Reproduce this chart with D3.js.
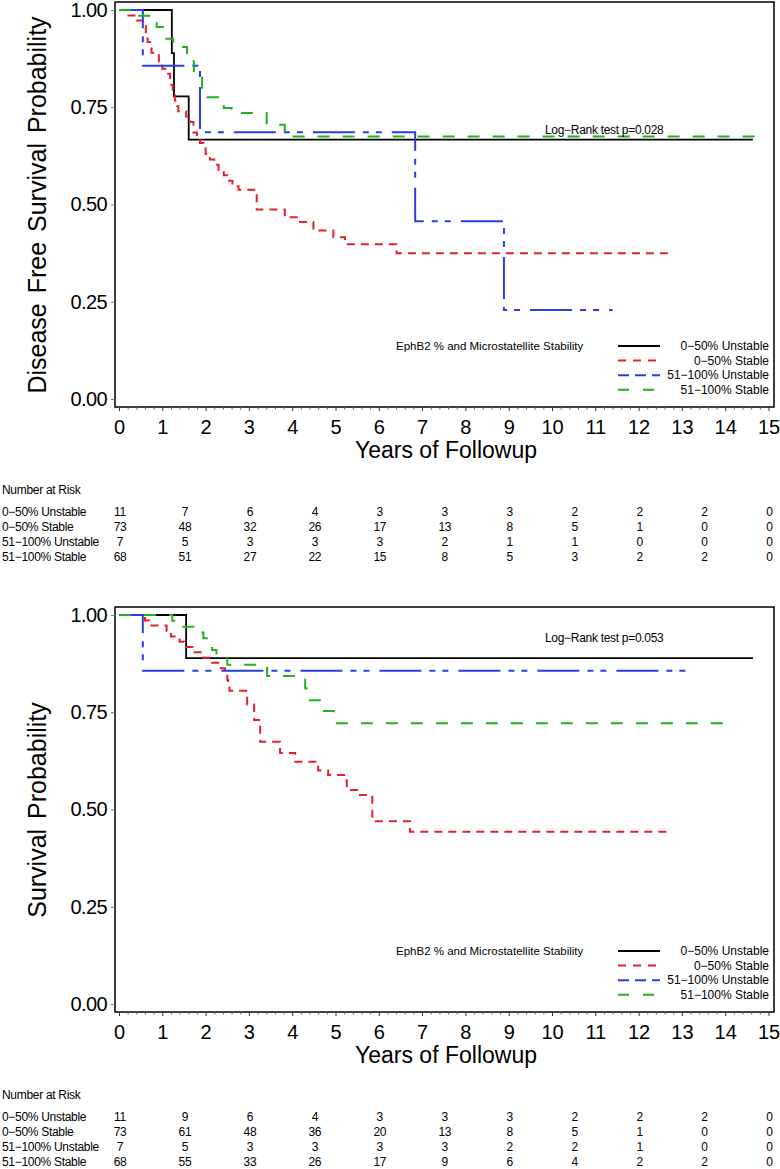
<!DOCTYPE html>
<html>
<head>
<meta charset="utf-8">
<script src="https://cdn.jsdelivr.net/npm/d3@7"></script>
<style>
  body { margin: 0; background: #fff; }
  svg  { display: block; font-family: "Liberation Sans", Arial, sans-serif; }
</style>
</head>
<body>
<svg id="chart" width="780" height="1169"></svg>
<script>
'use strict';

const groups       = ['0−50% Unstable', '0−50% Stable', '51−100% Unstable', '51−100% Stable']
const colors       = ['#000000', '#e3202b', '#2b3fe0', '#1fb31f']
const dashes       = [null, '8,6', '42,8,6,7,6,10', '12,13']
const legendDashes = [null, '8,7', '11,6', '11,14']

const xTicks    = d3.range(0, 16)
const yTicks    = [0, 0.25, 0.5, 0.75, 1]
const riskTimes = [0, 1.5, 3, 4.5, 6, 7.5, 9, 10.5, 12, 13.5, 15]

// disease free survival, [years, probability]
const dfsLowUnstable  = [[0,1],[1.22,0.889],[1.27,0.778],[1.61,0.667],[14.64,0.667]]
const dfsLowStable    = [[0,1],[0.22,0.986],[0.41,0.973],[0.55,0.959],[0.62,0.932],[0.66,0.918],[0.75,0.89],
                         [0.92,0.863],[1.0,0.849],[1.1,0.836],[1.18,0.808],[1.24,0.795],[1.29,0.767],[1.34,0.753],
                         [1.37,0.74],[1.55,0.726],[1.65,0.712],[1.72,0.685],[1.8,0.671],[1.87,0.658],[1.95,0.644],
                         [2.0,0.63],[2.1,0.616],[2.2,0.602],[2.3,0.589],[2.42,0.575],[2.5,0.561],[2.62,0.547],
                         [2.76,0.538],[3.18,0.487],[3.83,0.467],[4.18,0.455],[4.49,0.433],[4.95,0.416],[5.22,0.398],
                         [6.41,0.375],[12.68,0.375]]
const dfsHighUnstable = [[0,1],[0.55,0.857],[1.87,0.686],[6.84,0.457],[8.89,0.229],[11.4,0.229]]
const dfsHighStable   = [[0,1],[0.33,0.985],[0.87,0.956],[1.06,0.926],[1.25,0.905],[1.57,0.868],[1.73,0.838],
                         [1.92,0.8],[2.05,0.776],[2.42,0.748],[2.6,0.735],[3.41,0.705],[3.83,0.675],[14.9,0.675]]

// overall survival
const osLowUnstable   = [[0,1],[1.55,0.889],[14.64,0.889]]
const osLowStable     = [[0,1],[0.6,0.986],[0.7,0.973],[1.1,0.959],[1.2,0.945],[1.4,0.931],[1.5,0.918],[1.7,0.904],
                         [1.95,0.89],[2.15,0.877],[2.35,0.863],[2.45,0.848],[2.5,0.833],[2.52,0.819],[2.55,0.805],
                         [2.96,0.77],[3.12,0.73],[3.26,0.674],[3.72,0.645],[4.07,0.623],[4.6,0.6],[4.83,0.589],
                         [5.26,0.55],[5.5,0.537],[5.85,0.47],[6.72,0.443],[12.68,0.443]]
const osHighUnstable  = [[0,1],[0.55,0.857],[13.1,0.857]]
const osHighStable    = [[0,1],[1.23,0.985],[1.4,0.97],[1.75,0.955],[1.95,0.94],[2.1,0.925],[2.15,0.91],[2.25,0.895],
                         [2.5,0.872],[3.42,0.843],[4.3,0.812],[4.33,0.781],[4.73,0.753],[4.96,0.722],[14.2,0.722]]

const dfsRisk = [[11,7,6,4,3,3,3,2,2,2,0],
                 [73,48,32,26,17,13,8,5,1,0,0],
                 [7,5,3,3,3,2,1,1,0,0,0],
                 [68,51,27,22,15,8,5,3,2,2,0]]
const osRisk  = [[11,9,6,4,3,3,3,2,2,2,0],
                 [73,61,48,36,20,13,8,5,1,0,0],
                 [7,5,3,3,3,3,2,2,1,0,0],
                 [68,55,33,26,17,9,6,4,2,2,0]]

const svg = d3.select('#chart')
const x   = d3.scaleLinear().domain([0, 15]).range([119, 768.5])

function drawPanel(oy, yTitle, curves, pText, pY, risk) {
  const g = svg.append('g').attr('transform', `translate(0,${oy})`)
  const y = d3.scaleLinear().domain([0, 1]).range([399, 10])

  // frame
  g.append('rect')
    .attr('x', 115).attr('y', 2).attr('width', 659).attr('height', 405)
    .attr('fill', 'none').attr('stroke', '#000').attr('stroke-width', 1.5)

  // y axis
  const ya = g.append('g').attr('transform', 'translate(115,0)')
    .call(d3.axisLeft(y).tickValues(yTicks).tickFormat(d3.format('.2f')).tickSize(4).tickPadding(4))
  ya.select('.domain').remove()
  ya.selectAll('line').attr('stroke', '#777')
  ya.selectAll('text').attr('font-size', 20).attr('fill', '#000')
    .attr('font-family', '"Liberation Sans", Arial, sans-serif').attr('letter-spacing', -0.6)

  // x axis, minor ticks then majors
  const minor = d3.range(0, 15.01, 0.2).filter((t) => Math.abs(t - Math.round(t)) > 0.01)
  const xm = g.append('g').attr('transform', 'translate(0,407)')
    .call(d3.axisBottom(x).tickValues(minor).tickSize(2.5).tickFormat(''))
  xm.select('.domain').remove()
  xm.selectAll('line').attr('stroke', '#666')

  const xa = g.append('g').attr('transform', 'translate(0,407)')
    .call(d3.axisBottom(x).tickValues(xTicks).tickSize(4).tickPadding(9))
  xa.select('.domain').remove()
  xa.selectAll('line').attr('stroke', '#333')
  xa.selectAll('text').attr('font-size', 20).attr('fill', '#000')
    .attr('font-family', '"Liberation Sans", Arial, sans-serif')

  g.append('text')
    .attr('x', 446).attr('y', 458)
    .attr('text-anchor', 'middle').attr('font-size', 23)
    .text('Years of Followup')

  g.append('text')
    .attr('transform', 'translate(46,205) rotate(-90)')
    .attr('text-anchor', 'middle').attr('font-size', 25)
    .attr('word-spacing', 3)
    .text(yTitle)

  // survival curves
  const line = d3.line()
    .x((d) => x(d[0]))
    .y((d) => y(d[1]))
    .curve(d3.curveStepAfter)

  curves.forEach((c, i) => {
    g.append('path')
      .attr('d', line(c))
      .attr('fill', 'none')
      .attr('stroke', colors[i])
      .attr('stroke-width', i == 0 ? 1.8 : 2)
      .attr('stroke-dasharray', dashes[i])
  })

  g.append('text')
    .attr('x', 545).attr('y', pY)
    .attr('font-size', 12).attr('letter-spacing', -0.3)
    .text(pText)

  // legend
  g.append('text')
    .attr('x', 396).attr('y', 350)
    .attr('font-size', 11.5)
    .text('EphB2 % and Microstatellite Stability')

  groups.forEach((name, i) => {
    const ly = 346 + i * 14.6
    g.append('line')
      .attr('x1', 618).attr('x2', 660).attr('y1', ly).attr('y2', ly)
      .attr('stroke', colors[i]).attr('stroke-width', 2)
      .attr('stroke-dasharray', legendDashes[i])
    g.append('text')
      .attr('x', 769).attr('y', ly + 4)
      .attr('text-anchor', 'end').attr('font-size', 12)
      .text(name)
  })

  // number at risk table
  g.append('text')
    .attr('x', 2).attr('y', 494)
    .attr('font-size', 12).attr('letter-spacing', -0.3)
    .text('Number at Risk')

  risk.forEach((row, i) => {
    const ry = 516 + i * 15
    g.append('text')
      .attr('x', 2).attr('y', ry)
      .attr('font-size', 12).attr('letter-spacing', -0.3)
      .text(groups[i])
    g.selectAll(null)
      .data(row)
      .enter()
      .append('text')
        .attr('x',           (v, k) => x(riskTimes[k]) + 1)
        .attr('y',           ry)
        .attr('text-anchor', 'middle')
        .attr('font-size',   12)
        .attr('letter-spacing', -0.3)
        .text((v) => v)
  })
}

drawPanel(0,   'Disease Free Survival Probability',
          [dfsLowUnstable, dfsLowStable, dfsHighUnstable, dfsHighStable],
          'Log−Rank test p=0.028', 134, dfsRisk)
drawPanel(605, 'Survival Probability',
          [osLowUnstable, osLowStable, osHighUnstable, osHighStable],
          'Log−Rank test  p=0.053', 37, osRisk)
</script>
</body>
</html>
